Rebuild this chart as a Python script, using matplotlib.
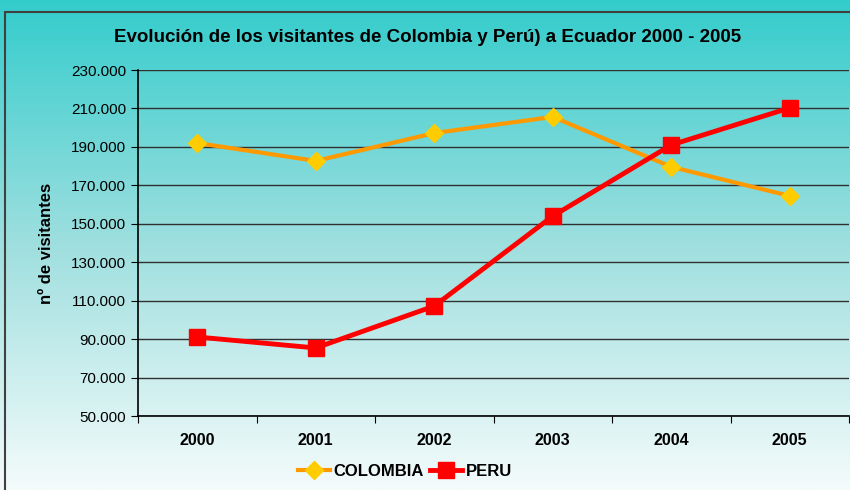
import numpy as np
import matplotlib
matplotlib.use("Agg")
import matplotlib.pyplot as plt
from matplotlib.ticker import FuncFormatter, FixedLocator
from matplotlib.colors import LinearSegmentedColormap
from matplotlib.patches import Rectangle

plt.rcParams["font.family"] = ["Liberation Sans", "DejaVu Sans"]

# Data
years = ["2000", "2001", "2002", "2003", "2004", "2005"]
colombia = [192000, 182700, 197200, 205600, 179600, 164500]
peru = [91100, 85400, 107200, 154000, 191000, 210300]
y_ticks = list(range(50000, 230001, 20000))

fig = plt.figure(figsize=(8.5, 4.9), dpi=100)

# Background gradient over the whole figure
bg = fig.add_axes([0, 0, 1, 1], zorder=-10)
grad = np.linspace(0, 1, 256).reshape(-1, 1)
cmap = LinearSegmentedColormap.from_list("teal", ["#33CCCC", "#9FDFDF", "#F4FBFB"])
bg.imshow(grad, aspect="auto", cmap=cmap, extent=[0, 1, 0, 1], origin="upper")
bg.set_xlim(0, 1)
bg.set_ylim(0, 1)
bg.axis("off")

# Outer frame
fig.patches.append(Rectangle((5 / 850, -0.01), 1.0, 1 - 12 / 490 + 0.01,
                             transform=fig.transFigure, fill=False,
                             edgecolor="#404040", linewidth=1.5, zorder=5))

ax = fig.add_axes([138 / 850, 1 - 416 / 490, (849 - 138) / 850, (416 - 70) / 490])
ax.patch.set_alpha(0)

x = np.arange(len(years)) + 0.5
ax.plot(x, colombia, color="#FF9900", linewidth=3, marker="D", markersize=9,
        markerfacecolor="#FFCC00", markeredgecolor="#FFCC00", label="COLOMBIA", zorder=3)
ax.plot(x, peru, color="#FF0000", linewidth=3.5, marker="s", markersize=12,
        markerfacecolor="#FF0000", markeredgecolor="#FF0000", label="PERU", zorder=4)

ax.set_xlim(0, len(years))
ax.set_ylim(50000, 230000)
ax.yaxis.set_major_locator(FixedLocator(y_ticks))
ax.yaxis.set_major_formatter(FuncFormatter(lambda v, p: f"{int(v):,}".replace(",", ".")))
ax.set_xticks(np.arange(len(years) + 1))
ax.set_xticklabels([])
ax.set_xticks(x, minor=True)
ax.set_xticklabels(years, minor=True, fontweight="bold", fontsize=11.5)
ax.tick_params(axis="x", which="minor", length=0, pad=12)
ax.tick_params(axis="x", which="major", length=5, color="black")
ax.tick_params(axis="y", length=5, labelsize=11, color="black")

ax.grid(axis="y", color="#303030", linewidth=1)
ax.set_axisbelow(True)
for side in ["top", "right"]:
    ax.spines[side].set_visible(False)
ax.spines["left"].set_color("black")
ax.spines["bottom"].set_color("black")
ax.spines["left"].set_linewidth(1.2)
ax.spines["bottom"].set_linewidth(1.2)

ax.set_ylabel("nº de visitantes", fontweight="bold", fontsize=12, labelpad=12)

fig.text(0.5 * (1 + 5 / 850), 1 - 38 / 490,
         "Evolución de los visitantes de Colombia y Perú) a Ecuador 2000 - 2005",
         ha="center", va="center", fontsize=13.5, fontweight="bold")

fig.legend(loc="center", bbox_to_anchor=(405 / 850, 1 - 471 / 490), ncol=2,
           frameon=False, handlelength=1.9, handletextpad=0.2, columnspacing=0.4,
           prop={"weight": "bold", "size": 12})

fig.savefig("out.png", dpi=100)
